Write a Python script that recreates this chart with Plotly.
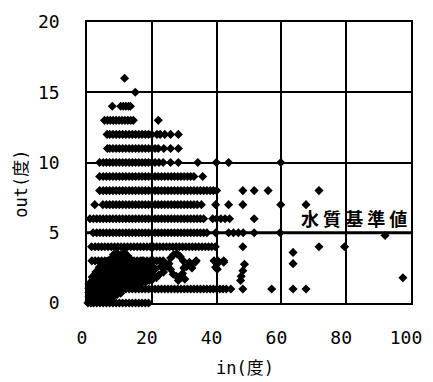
import plotly.graph_objects as go

# Readings with whole-number output: out level and the matching in values
out_levels = [16, 15, 14, 13, 12, 11, 10, 9, 8, 7, 6, 5, 4, 3, 1, 0]

in_at_16 = [11.6]
in_at_15 = [14.9]
in_at_14 = [7.8, 10.4, 11.2, 12.0, 12.8, 13.4]
in_at_13 = [5.4, 6.3, 7.2, 8.1, 9.0, 9.9, 10.8, 11.7, 12.6, 13.5, 14.3, 22.0]
in_at_12 = [6.2, 7, 8, 9, 10, 11, 12, 13, 14, 15, 16, 17, 18, 19, 20,
            21.6, 22.6, 24.0, 25.8, 28.2]
in_at_11 = [6.3, 7, 8, 9, 10, 11, 12, 13, 14, 15, 16, 17, 18, 19, 20, 21, 22,
            23.7, 25.8, 28.2]
in_at_10 = [3.9, 5, 6, 7, 8, 9, 10, 11, 12, 13, 14, 15, 16, 17, 18, 19, 20, 21,
            22.2, 23.5, 25.8, 28.2, 34.2, 39.9, 43.7, 59.8]
in_at_9 = [3.9, 5, 6, 7, 8, 9, 10, 11, 12, 13, 14, 15, 16, 17, 18, 19, 20, 21,
           22, 23, 24, 25, 26, 27, 28, 29, 30, 31, 32, 33, 35.7]
in_at_8 = [3.9, 5, 6, 7, 8, 9, 10, 11, 12, 13, 14, 15, 16, 17, 18, 19, 20, 21,
           22, 23, 24, 25, 26, 27, 28, 29, 30, 31, 32, 33, 34, 35, 36, 37, 38,
           39, 40, 48.1, 51.6, 55.9, 71.6]
in_at_7 = [2.4, 4.9, 6, 7, 8, 9, 10, 11, 12, 13, 14, 15, 16, 17, 18, 19, 20,
           21, 22, 23, 24, 25, 26, 27, 28, 29, 30, 31, 32, 33, 34, 35.3,
           39.7, 43.7, 48.1, 59.8, 67.6]
in_at_6 = [0.9, 2, 3, 4, 5, 6, 7, 8, 9, 10, 11, 12, 13, 14, 15, 16, 17, 18, 19,
           20, 21, 22, 23, 24, 25, 26, 27, 28, 29, 30, 31, 32, 33, 34, 35, 36,
           38.8, 40.0, 41.3, 42.6, 44.0, 51.6]
in_at_5 = [1.9, 3, 4, 5, 6, 7, 8, 9, 10, 11, 12, 13, 14, 15, 16, 17, 18, 19,
           20, 21, 22, 23, 24, 25, 26, 27, 28, 29, 30, 31, 32, 33, 34, 35, 36,
           37, 39.7, 43.7, 45.2, 46.7, 48.2, 51.6, 59.6]
in_at_4 = [1.4, 2.5, 3.5, 4.5, 5.5, 6.5, 7.5, 8.5, 9.5, 10.5, 11.5, 12.5, 13.5,
           14.5, 15.5, 16.5, 17.5, 18.5, 19.5, 20.5, 21.5, 22.5, 23.5, 24.5,
           25.5, 26.5, 27.5, 28.5, 29.5, 30.5, 31.5, 32.5, 33.5, 34.5, 35.5,
           36.5, 37.5, 38.5, 39.6, 48.1, 71.6, 79.5]
in_at_3 = [1.5, 2.5, 3.5, 4.5, 5.5, 6.5, 7.5, 8.5, 9.5, 10.5, 11.5, 12.5, 13.5,
           14.5, 15.5, 16.5, 17.5, 18.5, 19.5, 20.5, 21.5, 22.5, 23.5,
           33.7, 39.2, 40.4, 42.2]
in_at_1 = [8, 9, 10, 11, 12, 13, 14, 15, 16, 17, 18, 19, 20, 21, 22, 23, 24,
           25, 26, 27, 28, 29, 30, 31, 32, 33, 34, 35, 36, 37, 38, 39, 40, 41,
           42, 43, 44.4, 48.1, 57.0, 63.6, 67.6]
in_at_0 = [0.3, 1.2, 2, 3, 4, 5, 6, 7, 8, 9, 10, 11, 12, 13, 14, 15, 16, 17,
           18, 19]

level_rows = [in_at_16, in_at_15, in_at_14, in_at_13, in_at_12, in_at_11,
              in_at_10, in_at_9, in_at_8, in_at_7, in_at_6, in_at_5, in_at_4,
              in_at_3, in_at_1, in_at_0]

# Readings with fractional output, low range (columns of in value)
low_in = [0.6, 1.6, 2.7, 3.8, 4.9, 6.0, 7.1, 8.2, 9.3, 10.4, 11.5, 12.6, 13.7,
          14.8, 15.9, 17.0, 18.1, 19.2, 20.3]
low_out = [
    [0.15, 0.45, 0.75, 1.05, 1.35],
    [0.1, 0.4, 0.7, 1.0, 1.3, 1.6, 1.85],
    [0.15, 0.45, 0.75, 1.05, 1.35, 1.65, 1.95, 2.2],
    [0.2, 0.5, 0.8, 1.1, 1.4, 1.7, 2.0, 2.3, 2.55],
    [0.25, 0.55, 0.85, 1.15, 1.45, 1.75, 2.05, 2.35, 2.65],
    [0.3, 0.6, 0.9, 1.2, 1.5, 1.8, 2.1, 2.4, 2.7, 2.95],
    [0.35, 0.65, 0.95, 1.25, 1.55, 1.85, 2.15, 2.45, 2.75, 3.1],
    [0.45, 0.75, 1.05, 1.35, 1.65, 1.95, 2.25, 2.55, 2.85, 3.2, 3.45],
    [0.6, 0.9, 1.2, 1.5, 1.8, 2.1, 2.4, 2.7, 3.0, 3.3, 3.55],
    [0.7, 1.0, 1.3, 1.6, 1.9, 2.2, 2.5, 2.8, 3.1, 3.4],
    [1.2, 1.5, 1.8, 2.1, 2.4, 2.7, 3.0, 3.3, 3.6],
    [1.3, 1.6, 1.9, 2.2, 2.5, 2.8, 3.1, 3.35],
    [1.3, 1.6, 1.9, 2.2, 2.5, 2.8, 3.05],
    [1.35, 1.65, 1.95, 2.25, 2.55, 2.85],
    [1.4, 1.7, 2.0, 2.3, 2.6, 2.9],
    [1.45, 1.75, 2.05, 2.35, 2.65, 3.0],
    [1.5, 1.8, 2.1, 2.4, 2.7],
    [1.6, 1.9, 2.2, 2.5, 2.75],
    [1.7, 2.0, 2.3, 2.6],
]

# Remaining fractional readings
frac_in = [21.0, 21.4, 22.2, 22.8, 23.6, 24.3, 25.3, 25.8, 25.8, 26.6, 26.8,
           27.6, 27.8, 28.2, 28.6, 28.8, 29.5, 29.7, 29.9, 30.2, 30.8, 31.6,
           32.4, 33.4, 39.7, 40.2, 40.2, 42.2, 47.4, 47.6, 48.1, 48.6,
           63.6, 63.6, 92.0, 97.5]
frac_out = [2.4, 1.8, 2.0, 2.6, 2.2, 2.6, 2.8, 2.4, 3.2, 2.05, 3.45,
            1.9, 3.5, 1.6, 1.85, 3.3, 2.1, 3.0, 2.5, 1.7, 2.6, 2.9,
            2.5, 2.9, 2.55, 2.8, 2.4, 2.9, 1.6, 1.9, 2.3, 2.75,
            3.6, 2.8, 4.8, 1.8]

x_ticks = [0, 20, 40, 60, 80, 100]
y_ticks = [0, 5, 10, 15, 20]
standard_out = 5
standard_label = "水 質 基 準 値"

pts_in, pts_out = [], []
for lvl, row in zip(out_levels, level_rows):
    pts_in += row
    pts_out += [lvl] * len(row)
for xv, col in zip(low_in, low_out):
    pts_in += [xv] * len(col)
    pts_out += col
pts_in += frac_in
pts_out += frac_out

fig = go.Figure()
fig.add_trace(go.Scatter(
    x=pts_in, y=pts_out, mode="markers", cliponaxis=False,
    marker=dict(symbol="diamond", size=7, color="black", line=dict(width=0)),
    hoverinfo="skip", showlegend=False,
))

fig.add_shape(type="line", xref="x", yref="y", x0=0, x1=100,
              y0=standard_out, y1=standard_out, layer="below",
              line=dict(color="black", width=3))

tick_font = dict(family="DejaVu Sans Mono", size=18, color="black")
axis_common = dict(showgrid=True, gridcolor="black", gridwidth=1.6,
                   showline=True, linecolor="black", linewidth=1.6,
                   mirror=True, zeroline=False, ticks="", tickfont=tick_font)

fig.update_xaxes(range=[0, 100], tickvals=x_ticks,
                 ticktext=[str(v) for v in x_ticks],
                 ticklabelstandoff=18, ticklabelshift=-5, **axis_common)
fig.update_yaxes(range=[0, 20], tickvals=y_ticks,
                 ticktext=[str(v) for v in y_ticks],
                 ticklabelstandoff=22, **axis_common)

title_font = dict(family="DejaVu Sans Mono, Noto Sans CJK JP", size=17,
                  color="black")
fig.add_annotation(text="in(度)", xref="paper", yref="paper",
                   x=0.4866, y=-0.232, xanchor="center", yanchor="middle",
                   showarrow=False, font=title_font)
fig.add_annotation(text="out(度)", xref="paper", yref="paper",
                   x=-0.203, y=0.4256, xanchor="center", yanchor="middle",
                   textangle=-90, showarrow=False, font=title_font)
fig.add_annotation(text=standard_label, xref="x", yref="y",
                   x=82.4, y=6.05, xanchor="center", yanchor="middle",
                   showarrow=False,
                   font=dict(family="Noto Sans CJK JP", size=18,
                             color="black", weight="bold"))

fig.update_layout(width=433, height=382,
                  margin=dict(l=87, r=11, t=14, b=79),
                  paper_bgcolor="white", plot_bgcolor="white")

fig.write_html("out.html")
